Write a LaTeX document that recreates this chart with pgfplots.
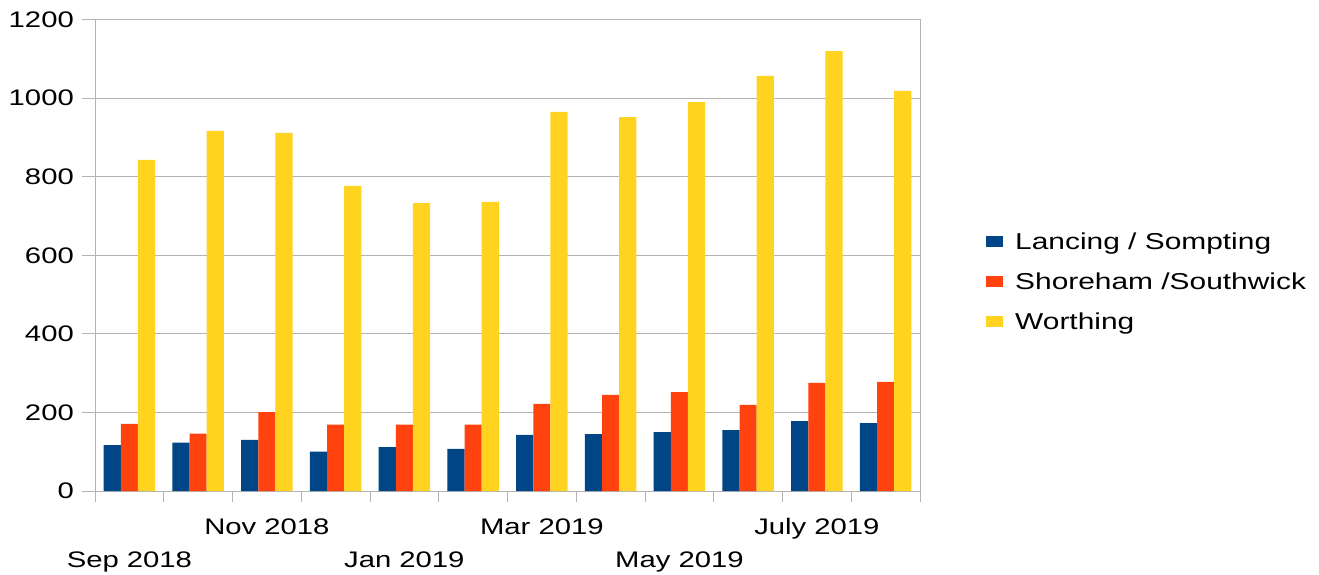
\documentclass[border=0pt]{standalone}
\usepackage{fontspec}
\setmainfont{Liberation Sans}[FakeStretch=1.3]
\usepackage{pgfplots}
\pgfplotsset{compat=1.18}
\definecolor{cBlue}{HTML}{004586}
\definecolor{cRed}{HTML}{FF420E}
\definecolor{cYel}{HTML}{FFD320}
\definecolor{cGrid}{HTML}{B3B3B3}
\begin{document}
\begin{tikzpicture}[x=1pt,y=1pt]
\useasboundingbox (0,0) rectangle (1319,574);
\begin{axis}[
  at={(95pt,83pt)}, anchor=south west,
  width=825pt, height=471.3pt, scale only axis,
  ybar=0pt, bar width=17.2pt,
  xmin=-0.5, xmax=11.5, ymin=0, ymax=1200,
  ytick={0,200,...,1200},
  /pgf/number format/1000 sep={},
  /pgf/number format/assume math mode=true,
  ymajorgrids, grid style={cGrid, line width=1pt},
  axis line style={cGrid, line width=1pt},
  tick align=outside,
  xtick pos=bottom, ytick pos=left,
  major tick length=13pt,
  minor tick length=11pt,
  major x tick style={draw=none},
  minor x tick style={cGrid, line width=1pt},
  major y tick style={cGrid, line width=1pt},
  xtick={2,6,10}, xticklabels={Nov 2018, Mar 2019, July 2019},
  extra x ticks={0,4,8}, extra x tick labels={Sep 2018, Jan 2019, May 2019},
  extra x tick style={grid=none, major x tick style={draw=none}, xticklabel style={yshift=-33pt}},
  minor xtick={-0.5,0.5,...,11.5},
  xticklabel style={anchor=north, inner sep=0pt, text height=16.5pt, text depth=5pt, yshift=-13.5pt, font=\fontsize{22.5}{26}\selectfont},
  yticklabel style={anchor=east, inner sep=0pt, xshift=-8pt, font=\fontsize{22.5}{26}\selectfont},
  legend style={at={(1.08,0.4392)}, anchor=west, draw=none, fill=none, inner sep=0pt,
    row sep=15pt, column sep=10pt, font=\fontsize{23}{27}\selectfont,
    nodes={inner sep=2pt, text height=16pt, text depth=5pt}},
  legend cell align=left,
  legend image code/.code={\fill[#1] (0pt,-3pt) rectangle (17pt,8pt);},
]
\addplot[fill=cBlue, draw=none] coordinates {(0,117) (1,123) (2,130) (3,100) (4,112) (5,107) (6,143) (7,145) (8,150) (9,155) (10,178) (11,173)};
\addplot[fill=cRed, draw=none] coordinates {(0,171) (1,146) (2,201) (3,169) (4,169) (5,169) (6,222) (7,245) (8,252) (9,219) (10,275) (11,278)};
\addplot[fill=cYel, draw=none] coordinates {(0,843) (1,917) (2,912) (3,777) (4,733) (5,736) (6,965) (7,952) (8,990) (9,1057) (10,1120) (11,1019)};
\legend{Lancing / Sompting, Shoreham /Southwick, Worthing}
\end{axis}
\end{tikzpicture}
\end{document}
